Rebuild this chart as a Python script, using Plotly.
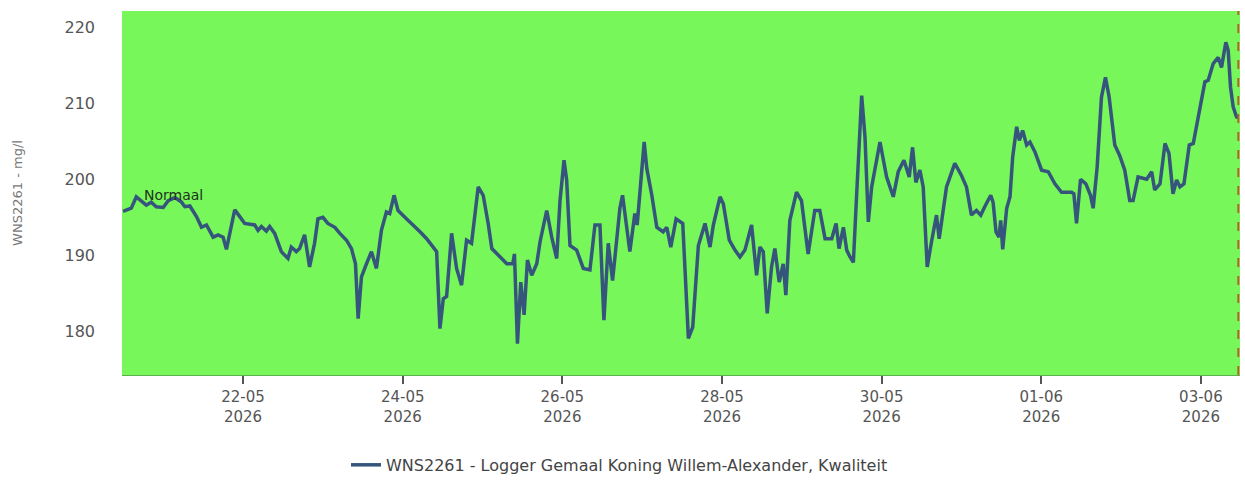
import pandas as pd
import plotly.graph_objects as go

# ---- data ----
start = pd.Timestamp("2026-05-20 00:00")

# hours since 2026-05-20 00:00
hours = [
    11.9, 14.4, 15.9, 17.4, 18.9, 20.4, 21.9, 24.0, 25.5, 27.5, 29.5, 30.5, 32.0, 34.0, 35.5,
    37.0, 39.0, 40.5, 42.0, 43.0, 44.0, 45.5, 47.0, 48.5, 51.5, 52.5, 53.5, 55.0, 56.0, 57.5,
    59.5, 61.5, 62.5, 64.0, 65.0, 66.5, 68.0, 69.5, 70.5, 72.0, 73.5, 75.6, 77.1, 79.1, 80.6,
    81.8, 82.6, 83.6, 85.1, 86.6, 88.1, 89.6, 91.1, 92.1, 93.4, 94.6,
    97.2, 99.2, 101.2, 103.2, 105.2, 106.2, 107.2, 108.2, 109.2, 110.7, 112.2, 113.7, 115.2,
    116.7, 118.7, 120.2, 121.7, 122.8, 125.3, 127.3, 129.1, 129.6, 130.5, 131.5, 132.5, 133.5,
    134.8, 136.3, 137.3, 139.3, 140.8, 142.3, 143.3, 144.5, 145.3, 146.3, 148.3, 150.3, 152.3,
    153.8, 155.3, 156.5, 157.8, 159.1, 161.3, 162.1, 164.3, 165.8, 166.5, 167.8, 168.6, 169.4,
    170.9, 172.4, 174.3, 175.4, 176.6, 178.2, 180.2,
    181.9, 183.2, 184.9, 185.9, 186.9, 188.4, 189.4, 191.4, 192.4, 194.2, 195.9, 197.4, 198.9,
    200.9, 202.4, 203.4, 204.4, 205.6, 206.9, 207.9, 209.2, 210.4, 211.2, 212.4, 214.4, 215.9,
    217.9, 219.9, 221.4, 223.0, 225.0, 226.3, 227.2, 228.5, 229.5, 230.5, 231.5, 232.5, 234.0,
    235.0, 236.0, 237.0, 239.5, 241.5, 243.5, 245.0, 246.7, 248.3, 249.3, 250.3, 251.5, 252.5,
    253.7, 255.0, 256.5, 257.3, 259.5, 262.0, 264.0,
    265.5, 267.0, 268.5, 269.8, 271.0, 272.8, 273.5, 274.4, 275.3, 275.8, 276.4, 277.6, 278.6,
    279.4, 280.6, 281.4, 282.4, 283.6, 284.6, 286.1, 288.1, 290.1, 292.1, 294.1, 297.1, 297.8,
    298.6, 299.8, 301.4, 302.8, 303.6, 304.8, 306.1, 307.3, 308.4, 310.1, 311.6, 313.1, 314.6,
    315.6, 317.1, 319.7, 321.2, 322.1, 323.7, 325.2, 326.4, 327.6, 328.7, 329.7, 330.9, 332.5,
    333.7, 335.5, 337.2, 338.2, 339.7, 341.2, 342.2, 342.9, 343.5, 344.2, 344.9, 345.7, 346.7,
    347.3,
]

values = [
    195.8, 196.2, 197.7, 197.2, 196.6, 197.0, 196.4, 196.3, 197.2, 197.6, 197.0, 196.4, 196.5, 195.1, 193.7,
    194.0, 192.4, 192.7, 192.4, 190.8, 192.9, 196.0, 195.1, 194.2, 194.0, 193.3, 193.8, 193.2, 193.8, 192.9,
    190.5, 189.6, 191.1, 190.5, 190.9, 192.7, 188.5, 191.6, 194.8, 195.0, 194.2, 193.7, 192.9, 192.0, 190.9,
    188.9, 181.7, 187.2, 188.9, 190.5, 188.3, 193.3, 195.7, 195.5, 197.9, 195.9,
    194.8, 194.0, 193.1, 192.2, 191.1, 190.5, 180.4, 184.3, 184.6, 192.9, 188.3, 186.1, 192.0,
    191.6, 199.0, 197.9, 194.2, 190.9, 189.8, 188.9, 188.9, 190.2, 178.4, 186.5, 182.2, 189.4,
    187.4, 188.9, 191.8, 195.9, 192.4, 189.6, 197.2, 202.5, 199.9, 191.3, 190.7, 188.3, 188.1,
    194.0, 194.0, 181.5, 191.6, 186.7, 196.2, 197.9, 190.5, 195.5, 194.0, 200.1, 204.9, 201.4,
    197.9, 193.7, 193.1, 193.7, 191.1, 194.8, 194.2,
    179.1, 180.6, 191.3, 192.7, 194.2, 191.1, 194.0, 197.7, 196.8, 192.0, 190.7, 189.8, 190.7,
    194.0, 187.4, 191.1, 190.5, 182.4, 188.5, 190.9, 186.5, 188.9, 184.8, 194.6, 198.3, 197.2,
    190.2, 195.9, 195.9, 192.2, 192.2, 194.2, 190.9, 193.7, 190.7, 189.8, 189.1, 198.1, 211.0,
    205.5, 194.4, 199.0, 204.9, 200.3, 197.7, 201.0, 202.5, 200.3, 204.2, 199.6, 201.2, 199.0,
    188.5, 191.8, 195.3, 192.2, 199.0, 202.1, 200.5,
    199.0, 195.3, 195.9, 195.3, 196.4, 197.9, 197.0, 193.1, 192.4, 194.6, 190.8, 196.2, 197.7,
    202.9, 206.9, 205.1, 206.4, 204.5, 204.9, 203.6, 201.2, 201.0, 199.4, 198.3, 198.3, 198.1,
    194.2, 200.0, 199.4, 197.9, 196.2, 201.6, 210.8, 213.4, 210.8, 204.5, 203.1, 201.2, 197.2,
    197.2, 200.3, 200.0, 201.0, 198.6, 199.4, 204.7, 203.4, 198.1, 199.9, 199.0, 199.4, 204.5,
    204.7, 208.8, 212.8, 213.0, 215.2, 216.0, 214.7, 216.5, 218.0, 216.9, 212.1, 209.5, 208.2,
    208.1,
]

series_name = "WNS2261 - Logger Gemaal Koning Willem-Alexander, Kwaliteit"
y_title = "WNS2261 - mg/l"
band_label = "Normaal"
band_label_hour = 17.5
band_label_value = 197.9
now_time = "2026-06-03 11:15"
x_range = ["2026-05-20 11:36", "2026-06-03 11:45"]
y_range = [174.3, 222.1]

times = start + pd.to_timedelta(hours, unit="h")

fig = go.Figure()
fig.add_trace(go.Scatter(
    x=times, y=values, mode="lines", name=series_name,
    line=dict(color="#36557d", width=3.5),
))

fig.add_annotation(x=start + pd.Timedelta(hours=band_label_hour), y=band_label_value,
                   text=band_label, showarrow=False, xanchor="left", yanchor="middle",
                   font=dict(family="DejaVu Sans", size=14, color="#1d331d"))

fig.update_layout(
    width=1245, height=482,
    margin=dict(l=122, r=5, t=11, b=107, autoexpand=False),
    paper_bgcolor="white",
    plot_bgcolor="#78f75a",
    font=dict(family="DejaVu Sans", color="#555555"),
    showlegend=True,
    legend=dict(orientation="h", x=0.445, y=-0.247, xanchor="center", yanchor="middle",
                font=dict(family="DejaVu Sans", size=16, color="#444444"),
                bgcolor="rgba(0,0,0,0)"),
    shapes=[dict(type="line", xref="x", yref="paper", layer="above",
                 x0=now_time, x1=now_time, y0=0, y1=1,
                 line=dict(color="#b5612a", width=2, dash="dash"))],
)

fig.update_xaxes(
    type="date", automargin=False,
    range=x_range,
    tick0="2026-05-22", dtick=2 * 86400000,
    tickformat="%d-%m<br>%Y",
    ticks="outside", ticklen=8, tickwidth=2, tickcolor="#555555",
    showgrid=False, zeroline=False,
    showline=True, linecolor="#5fb04c", linewidth=1,
    tickfont=dict(family="DejaVu Sans", size=15, color="#555555"),
)

fig.update_yaxes(
    automargin=False,
    range=y_range, dtick=10, tick0=0,
    showgrid=False, zeroline=False, ticks="",
    ticklabelstandoff=26,
    tickfont=dict(family="DejaVu Sans", size=16, color="#555555"),
    title=dict(text=y_title, standoff=38,
               font=dict(family="DejaVu Sans", size=13, color="#777777")),
)

# remove the browser's default 8px page margin so the figure fills the window exactly
fig.write_html("out.html", config={"displayModeBar": False},
               post_script="document.body.style.margin='0px';document.body.style.overflow='hidden';")
